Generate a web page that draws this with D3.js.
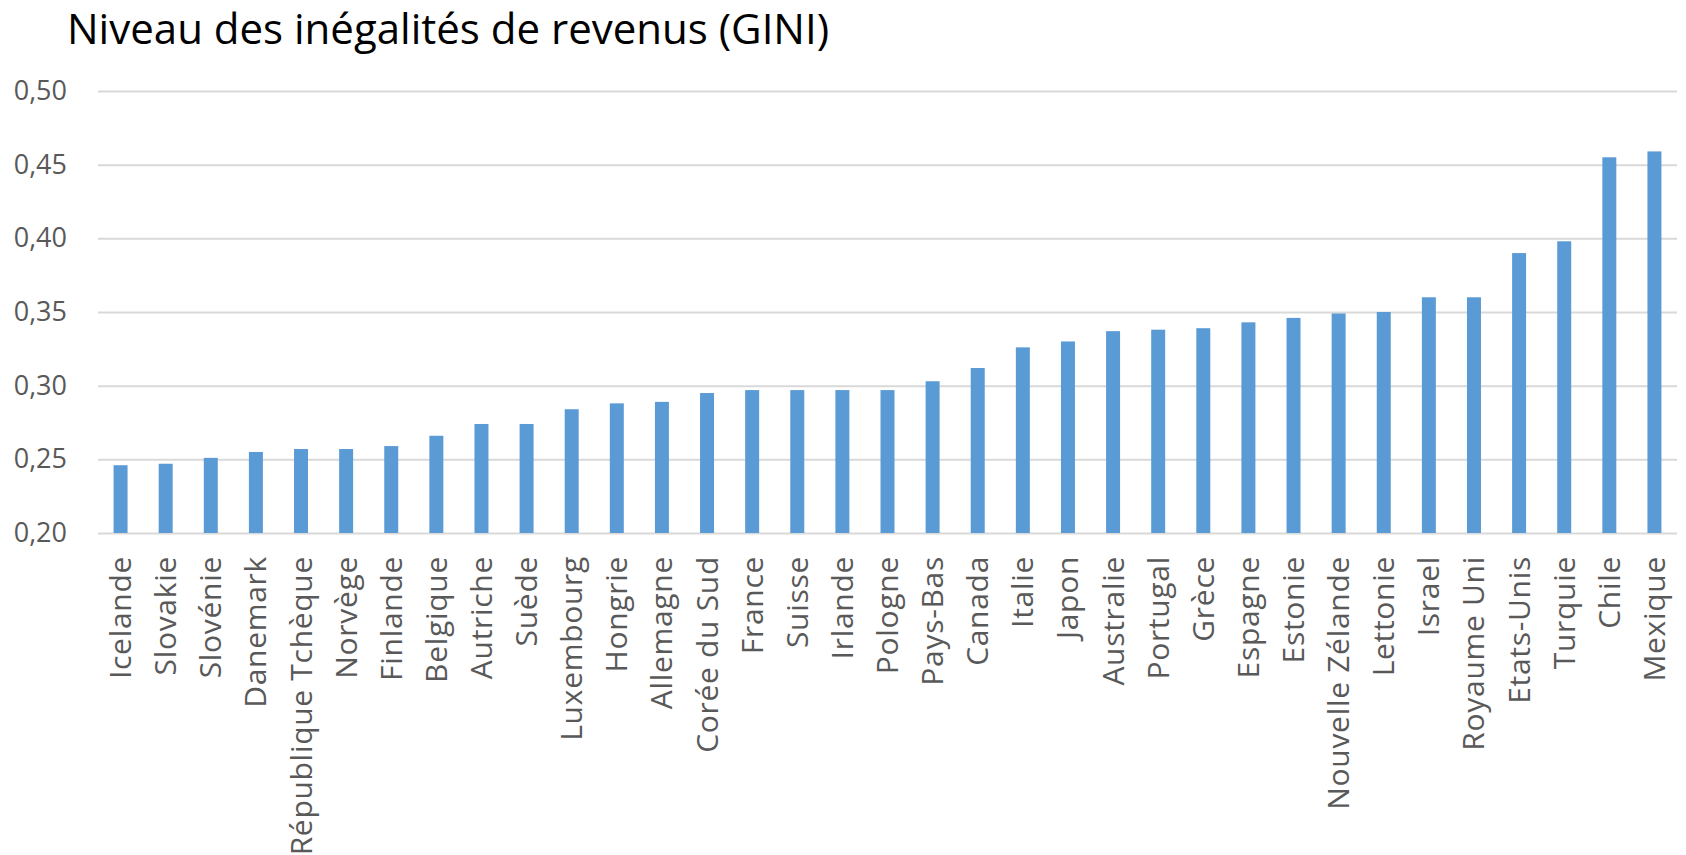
<!DOCTYPE html>
<html>
<head>
<meta charset="utf-8">
<script src="https://cdn.jsdelivr.net/npm/d3@7"></script>
<style>
  body { margin: 0; background: #fff; }
  text { font-family: "Open Sans", "Noto Sans", sans-serif; }
</style>
</head>
<body>
<div id="chart"></div>
<script>
// Data
var countries = ["Icelande", "Slovakie", "Slovénie", "Danemark", "République Tchèque", "Norvège",
  "Finlande", "Belgique", "Autriche", "Suède", "Luxembourg", "Hongrie", "Allemagne", "Corée du Sud",
  "France", "Suisse", "Irlande", "Pologne", "Pays-Bas", "Canada", "Italie", "Japon", "Australie",
  "Portugal", "Grèce", "Espagne", "Estonie", "Nouvelle Zélande", "Lettonie", "Israel", "Royaume Uni",
  "Etats-Unis", "Turquie", "Chile", "Mexique"];

var gini = [0.246, 0.247, 0.251, 0.255, 0.257, 0.257,
  0.259, 0.266, 0.274, 0.274, 0.284, 0.288, 0.289, 0.295,
  0.297, 0.297, 0.297, 0.297, 0.303, 0.312, 0.326, 0.330, 0.337,
  0.338, 0.339, 0.343, 0.346, 0.349, 0.350, 0.360, 0.360,
  0.390, 0.398, 0.455, 0.459];

var yTicks = [0.20, 0.25, 0.30, 0.35, 0.40, 0.45, 0.50];

var chartTitle = "Niveau des inégalités de revenus (GINI)";

var svgWidth = 1686;
var svgHeight = 855;

var margin = {
  top: 91,
  right: 9,
  bottom: 322,
  left: 98
};

var width = svgWidth - margin.left - margin.right;
var height = svgHeight - margin.top - margin.bottom;

var svg = d3.select("#chart")
  .append("svg")
  .attr("width", svgWidth)
  .attr("height", svgHeight);

var chartGroup = svg.append("g")
  .attr("transform", `translate(${margin.left}, ${margin.top})`);

var data = countries.map(function (c, i) {
  return { country: c, value: gini[i] };
});

// Step 1: scales
var xBandScale = d3.scaleBand()
  .domain(countries)
  .range([0, width])
  .paddingInner(0.69)
  .paddingOuter(0.345);

var yLinearScale = d3.scaleLinear()
  .domain([0.20, 0.50])
  .range([height, 0]);

// French number format (comma as decimal)
var fr = d3.formatLocale({ decimal: ",", thousands: " ", grouping: [3], currency: ["", " €"] });

// Step 2: axes
var leftAxis = d3.axisLeft(yLinearScale)
  .tickValues(yTicks)
  .tickFormat(fr.format(".2f"))
  .tickSize(-width)
  .tickPadding(31);

var bottomAxis = d3.axisBottom(xBandScale)
  .tickSize(0);

var yAxisGroup = chartGroup.append("g")
  .call(leftAxis);

yAxisGroup.select(".domain").remove();
yAxisGroup.selectAll(".tick line")
  .attr("stroke", "#d9d9d9")
  .attr("stroke-width", 2);
yAxisGroup.selectAll(".tick text")
  .attr("fill", "#595959")
  .attr("font-size", 27)
  .attr("font-family", "Open Sans");

// Step 3: bars
chartGroup.selectAll(".bar")
  .data(data)
  .enter()
  .append("rect")
  .attr("class", "bar")
  .attr("x", d => xBandScale(d.country))
  .attr("y", d => yLinearScale(d.value))
  .attr("width", xBandScale.bandwidth())
  .attr("height", d => height - yLinearScale(d.value))
  .attr("fill", "#5b9bd5");

// Step 4: rotated category labels
var xAxisGroup = chartGroup.append("g")
  .attr("transform", `translate(0, ${height})`)
  .call(bottomAxis);

xAxisGroup.select(".domain").remove();
xAxisGroup.selectAll(".tick text")
  .attr("x", 0)
  .attr("y", 0)
  .attr("dy", "0.35em")
  .attr("transform", "translate(0, 23) rotate(-90)")
  .attr("text-anchor", "end")
  .attr("fill", "#595959")
  .attr("font-size", 30)
  .attr("letter-spacing", 0.7)
  .attr("font-family", "Open Sans");

// Step 5: title
svg.append("text")
  .attr("x", 67)
  .attr("y", 44)
  .attr("font-size", 42)
  .attr("fill", "#000")
  .text(chartTitle);
</script>
</body>
</html>
